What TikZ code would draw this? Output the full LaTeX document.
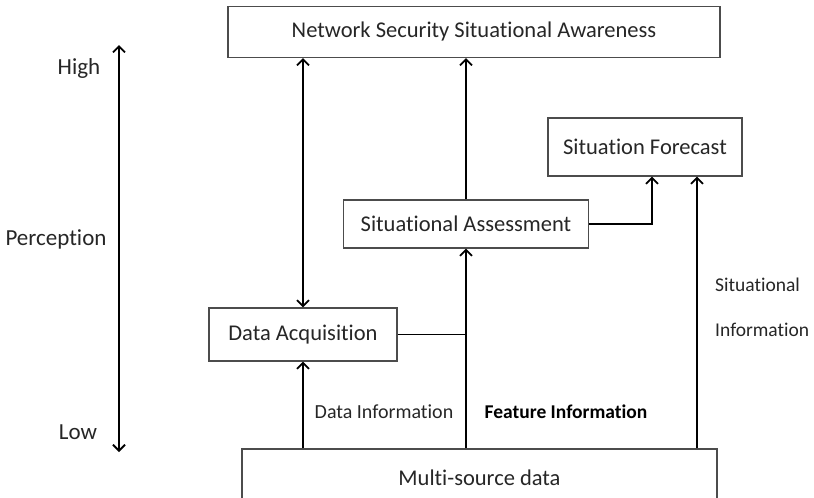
\documentclass[tikz,border=0pt]{standalone}
\usepackage{fontspec}
\setmainfont{Carlito}[Ligatures = NoCommon]
\usetikzlibrary{arrows.meta}

\begin{document}
\begin{tikzpicture}[x = 1pt, y = -1pt,
  box/.style = {draw = black!70, line width = 1.1pt, inner sep = 0pt, text = black!85,
    font = \fontsize{22.5}{26}\selectfont},
  link/.style = {draw = black, line width = 1.8pt},
  label/.style = {text = black!85, inner sep = 0pt, font = \fontsize{19.5}{23}\selectfont},
  >={Straight Barb[length = 6pt, width = 12pt]}]
\useasboundingbox (0, 0) rectangle (814, 498);

\node [box, minimum width = 492pt, minimum height = 51pt] (nssa) at (474, 32) {Network Security Situational Awareness};
\node [box, minimum width = 194pt, minimum height = 58pt] (sf) at (645, 147) {Situation Forecast};
\node [box, minimum width = 245pt, minimum height = 48pt] (sa) at (466, 224) {Situational Assessment};
\node [box, minimum width = 188pt, minimum height = 53pt] (da) at (303, 334.5) {Data Acquisition};
\node [box, minimum width = 475pt, minimum height = 58pt] (ms) at (479.5, 478) {Multi-source data};

\node [label, font = \fontsize{23}{27}\selectfont] (high) at (79, 68) {High};
\node [label, font = \fontsize{23}{27}\selectfont] (perc) at (56, 239) {Perception};
\node [label, font = \fontsize{23}{27}\selectfont] (low) at (78, 432) {Low};
\coordinate (top) at (119, 45);
\coordinate (bottom) at (119, 452);
\path [link, <->] (top) -- (bottom);

\node [label, font = \fontsize{20}{24}\selectfont] (datainfo) at (384, 412) {Data Information};
\node [label, font = \fontsize{19.5}{23}\selectfont\bfseries, text = black] (featinfo) at (566, 412) {Feature Information};
\node [label, anchor = west] (sitinfo1) at (715, 285) {Situational};
\node [label, anchor = west] (sitinfo2) at (715, 330) {Information};

% acquisition
\path [link, <->] (da.north) -- (da.north |- nssa.south);
\path [link, ->] (ms.north -| da.south) -- (da.south);
\path [link] (da.east) -- (da.east -| sa.south);

% assessment
\path [link, ->] (ms.north -| sa.south) -- (sa.south);
\path [link, ->] (sa.north) -- (sa.north |- nssa.south);

% forecast
\coordinate (sfleft) at ([xshift = 7pt]sf.south);
\coordinate (sfright) at ([xshift = 52pt]sf.south);
\path [link, ->] (sa.east) -| (sfleft);
\path [link, ->] (sfright |- ms.north) -- (sfright);
\end{tikzpicture}
\end{document}
